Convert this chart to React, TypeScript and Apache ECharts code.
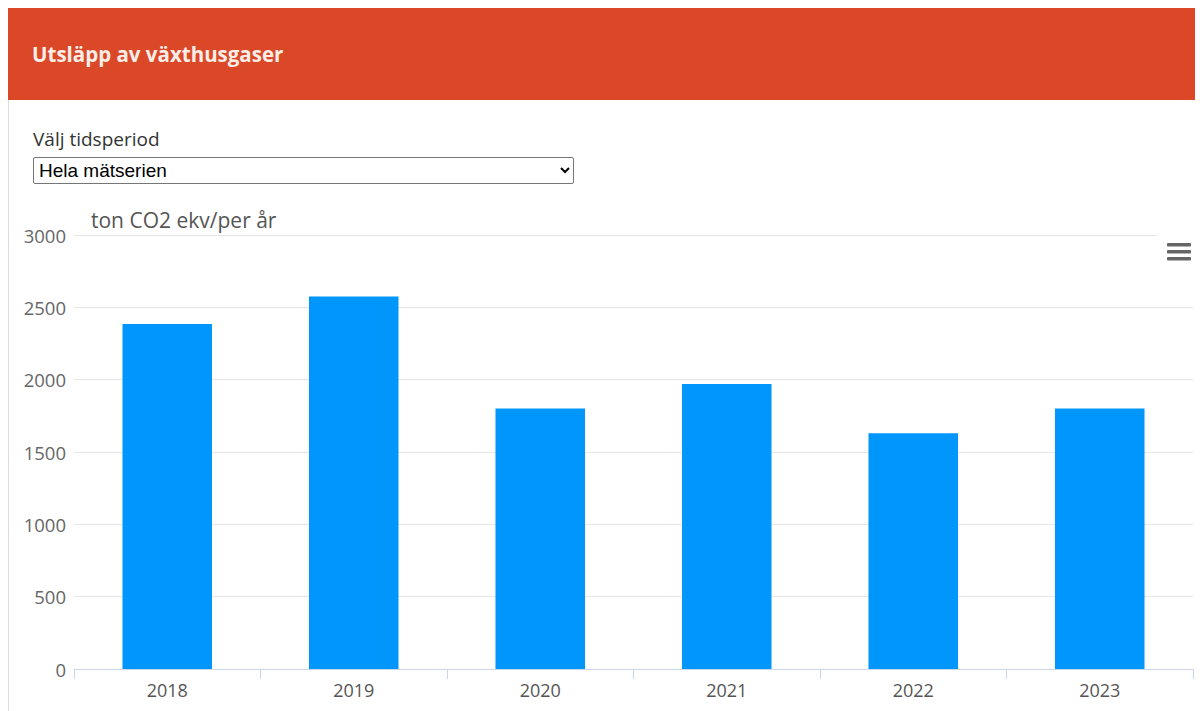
import React, { useEffect, useRef } from "react";
import * as echarts from "echarts";

const categories = ["2018", "2019", "2020", "2021", "2022", "2023"];
const emissions = [2385, 2575, 1800, 1970, 1630, 1800];
const yTicks = { min: 0, max: 3000, interval: 500 };
const headerTitle = "Utsläpp av växthusgaser";
const periodLabel = "Välj tidsperiod";
const periodOptions = ["Hela mätserien"];
const axisTitle = "ton CO2 ekv/per år";

export default function App() {
  const ref = useRef<HTMLDivElement>(null);

  useEffect(() => {
    document.body.style.overflow = "hidden";
    const chart = echarts.init(ref.current!, null, { renderer: "svg" });
    chart.setOption({
      animation: false,
      textStyle: { fontFamily: "Open Sans" },
      title: {
        text: axisTitle,
        left: 78,
        top: 4,
        textStyle: { fontSize: 21, fontWeight: "normal", color: "#555", fontFamily: "Open Sans" },
      },
      grid: { left: 66, right: 10, top: 35, bottom: 42, containLabel: false },
      xAxis: {
        type: "category",
        data: categories,
        axisLine: { lineStyle: { color: "#ccd6eb" } },
        axisTick: { show: true, length: 10, lineStyle: { color: "#ccd6eb" } },
        axisLabel: { color: "#555", fontSize: 18, margin: 12, fontFamily: "Open Sans" },
      },
      yAxis: {
        type: "value",
        min: yTicks.min,
        max: yTicks.max,
        interval: yTicks.interval,
        axisLine: { show: false },
        axisTick: { show: false },
        axisLabel: {
          color: "#666",
          fontSize: 18.5,
          margin: 8,
          fontFamily: "Open Sans",
          formatter: (v: number) => String(v),
        },
        splitLine: { lineStyle: { color: "#e6e6e6" } },
      },
      series: [
        {
          type: "bar",
          data: emissions,
          barWidth: "48%",
          itemStyle: { color: "#0096fb" },
        },
      ],
      graphic: [
        { type: "rect", left: 1149, top: 30, shape: { width: 46, height: 36 }, style: { fill: "#fff" }, z: 10 },
        { type: "rect", left: 1159, top: 43, shape: { width: 24, height: 3.5, r: 1 }, style: { fill: "#666" }, z: 11 },
        { type: "rect", left: 1159, top: 50, shape: { width: 24, height: 3.5, r: 1 }, style: { fill: "#666" }, z: 11 },
        { type: "rect", left: 1159, top: 57, shape: { width: 24, height: 3.5, r: 1 }, style: { fill: "#666" }, z: 11 },
      ],
    });
    return () => chart.dispose();
  }, []);

  return (
    <div style={{ width: 1195, height: 703, borderLeft: "1px solid #ddd", boxSizing: "border-box", position: "relative" }}>
      <div
        style={{
          height: 92,
          background: "#da4828",
          color: "#fdeee8",
          fontFamily: "'Open Sans', 'Noto Sans', sans-serif",
          fontWeight: 700,
          fontSize: 20.5,
          display: "flex",
          alignItems: "center",
          paddingLeft: 24,
          marginLeft: -1,
        }}
      >
        {headerTitle}
      </div>
      <div
        style={{
          position: "absolute",
          left: 24,
          top: 118,
          fontFamily: "'Open Sans', 'Noto Sans', sans-serif",
          fontSize: 19,
          color: "#333",
        }}
      >
        {periodLabel}
      </div>
      <select
        defaultValue={periodOptions[0]}
        style={{
          position: "absolute",
          left: 24,
          top: 149,
          width: 541,
          height: 27,
          fontFamily: "Arial, 'Liberation Sans', sans-serif",
          fontSize: 19,
          padding: "0 1px",
          border: "1px solid #767676",
          borderRadius: 2,
          background: "#fff",
          color: "#000",
        }}
      >
        {periodOptions.map((o) => (
          <option key={o}>{o}</option>
        ))}
      </select>
      <div ref={ref} style={{ position: "absolute", left: -1, top: 192, width: 1195, height: 511 }} />
    </div>
  );
}
